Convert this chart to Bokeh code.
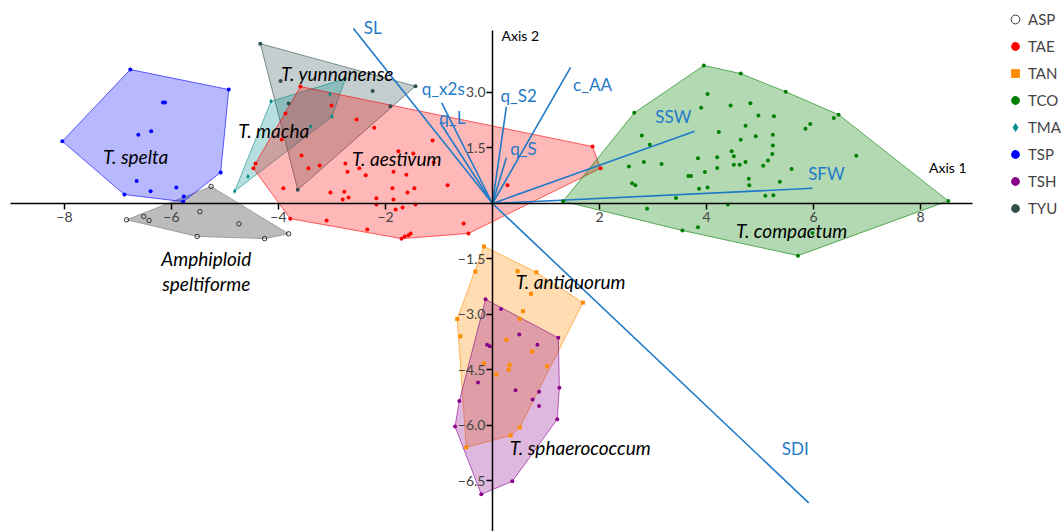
from bokeh.plotting import figure
from bokeh.models import (Range1d, LinearAxis, FixedTicker, Legend, LegendItem)
from bokeh.core.properties import value
from bokeh.embed import file_html
from bokeh.resources import INLINE

FONT = "Lato"
LOAD_COLOR = "#1f7ac8"

# ---- group scores (Axis 1, Axis 2) ----
asp_x = [-5.26, -3.81, -4.26, -5.52, -6.84, -6.52, -6.42, -5.47, -4.74]
asp_y = [0.46, -0.82, -0.95, -0.89, -0.44, -0.35, -0.46, -0.22, -0.55]

tae_x = [-3.59, -3.87, -3.01, -2.54, -2.21, -3.57, -3.44, -3.23, -2.75, -2.49,
         -2.71, -2.37, -3.91, -3.03, -2.77, -2.69, -2.80, -2.17, -2.17, -1.85,
         -1.87, -1.59, -1.46, -1.44, -1.81, -1.68, -1.85, -1.61, -1.76, -1.48,
         -1.12, -1.10, -0.84, -0.54, -0.45, -3.10, -2.34, -1.70, -1.64, -1.57,
         -1.53, -3.78, -4.47, -4.43, -3.94, 0.28, 1.87, 2.02]
tae_y = [3.16, 2.43, 2.65, 2.27, 2.05, 1.30, 0.95, 1.03, 1.08, 0.95,
         0.86, 0.76, 0.41, 0.30, 0.32, 0.16, 0.11, 0.14, -0.03, 0.11,
         0.41, 0.30, 0.41, -0.03, -0.16, -0.11, 0.86, 0.78, 1.41, 1.35,
         1.70, 1.11, 0.49, -0.54, -0.81, -0.46, -0.70, -0.95, -0.89, -0.86,
         -0.81, -0.41, 0.95, 1.08, 1.73, 0.49, 1.54, 0.95]

tan_x = [-0.16, 1.69, 0.51, 0.34, -0.49, -0.66, -0.32, 0.47, 0.82, 0.72,
         0.57, 0.51, -0.60, 0.26, 0.74, 1.02, -0.16, 0.32, 0.30, 0.07]
tan_y = [-1.16, -2.68, -6.05, -6.27, -6.59, -3.12, -1.84, -1.83, -1.86, -2.44,
         -2.91, -3.12, -3.59, -3.68, -4.00, -4.40, -4.32, -4.36, -4.49, -4.62]

tco_x = [3.95, 4.64, 5.48, 6.47, 8.52, 5.71, 3.55, 1.32, 2.65, 4.02,
         4.45, 4.82, 3.90, 4.97, 5.26, 6.38, 5.94, 5.85, 2.79, 4.23,
         4.73, 4.92, 5.24, 4.64, 2.94, 5.24, 4.47, 5.23, 6.80, 3.84,
         4.20, 4.51, 5.15, 2.83, 3.16, 2.55, 4.51, 4.62, 4.73, 5.06,
         4.20, 3.97, 5.59, 3.66, 3.71, 4.79, 4.80, 5.37, 2.61, 2.67,
         3.86, 4.02, 3.43, 5.10, 5.25, 2.89, 3.84, 4.40, 5.98]
tco_y = [3.73, 3.51, 3.02, 2.40, 0.07, -1.41, -0.73, 0.06, 2.45, 2.96,
         2.65, 2.71, 2.59, 2.38, 2.36, 2.31, 2.15, 2.02, 1.84, 1.93,
         2.10, 1.82, 1.86, 1.72, 1.59, 1.57, 1.41, 1.34, 1.29, 1.22,
         1.25, 1.28, 1.16, 1.12, 1.07, 1.00, 1.05, 1.05, 1.12, 1.02,
         0.96, 0.85, 0.93, 0.74, 0.74, 0.67, 0.49, 0.59, 0.55, 0.49,
         0.40, 0.43, 0.15, 0.21, 0.22, -0.14, -0.64, -0.03, -0.80]

tma_x = [-4.82, -4.14, -2.75, -3.00, -3.04, -3.40, -4.57]
tma_y = [0.33, 2.76, 3.37, 2.35, 2.95, 2.08, 0.73]

tsp_x = [-6.77, -4.93, -5.08, -5.77, -5.78, -6.88, -8.04, -6.16, -6.12,
         -6.62, -6.38, -6.65, -6.39, -5.91]
tsp_y = [3.62, 3.08, 0.84, 0.19, 0.05, 0.24, 1.68, 2.73, 2.73,
         1.86, 1.95, 0.61, 0.33, 0.43]

tsh_x = [-0.13, 1.23, 1.25, 1.21, 0.37, -0.21, -0.70, -0.62, 0.16, 0.50,
         0.84, -0.10, -0.05, -0.27, 0.43, 0.87, 0.75, 0.87]
tsh_y = [-2.59, -3.63, -4.98, -5.83, -7.51, -7.86, -6.03, -5.34, -2.85, -3.54,
         -3.82, -3.82, -3.86, -4.84, -5.05, -5.09, -5.30, -5.47]

tyu_x = [-4.34, -1.44, -1.91, -3.64, -3.96, -3.81, -2.24]
tyu_y = [4.32, 3.17, 2.63, 0.37, 3.31, 2.70, 3.04]

# ---- variable loadings ----
load_names = ["SL", "q_x2s", "q_L", "q_S2", "q_S", "c_AA", "SSW", "SFW", "SDI"]
load_x = [-2.60, -0.95, -0.98, 0.26, 0.26, 1.46, 3.78, 5.98, 5.91]
load_y = [4.73, 2.72, 2.19, 2.62, 1.24, 3.68, 1.95, 0.41, -8.09]
load_lab_x = [-2.24, -0.92, -0.75, 0.49, 0.58, 1.87, 3.38, 6.24, 5.66]
load_lab_y = [4.76, 3.10, 2.32, 2.92, 1.49, 3.22, 2.35, 0.81, -6.62]

# ---- group names ----
grp_names = ["T. spelta", "T. yunnanense", "T. macha", "T. aestivum", "Amphiploid",
             "speltiforme", "T. antiquorum", "T. sphaerococcum", "T. compactum"]
grp_lab_x = [-6.67, -2.90, -4.09, -1.79, -5.35, -5.35, 1.46, 1.64, 5.59]
grp_lab_y = [1.26, 3.51, 1.97, 1.22, -1.49, -2.16, -2.10, -6.59, -0.73]

# ---- axis ticks ----
x_ticks = [-8, -6, -4, -2, 2, 4, 6, 8]
y_ticks = [3.0, 1.5, -1.5, -3.0, -4.5, -6.0, -7.5]
y_tick_labels = ["3.0", "1.5", "\u22121.5", "\u22123.0", "\u22124.5", "\u22126.0", "\u22126.5"]


def hull(xs, ys):
    pts = sorted(set(zip(xs, ys)))

    def cross(o, a, b):
        return (a[0] - o[0]) * (b[1] - o[1]) - (a[1] - o[1]) * (b[0] - o[0])

    lower, upper = [], []
    for pt in pts:
        while len(lower) >= 2 and cross(lower[-2], lower[-1], pt) <= 0:
            lower.pop()
        lower.append(pt)
    for pt in reversed(pts):
        while len(upper) >= 2 and cross(upper[-2], upper[-1], pt) <= 0:
            upper.pop()
        upper.append(pt)
    h = lower[:-1] + upper[:-1]
    return [q[0] for q in h], [q[1] for q in h]


p = figure(width=1062, height=531, output_backend="svg", toolbar_location=None,
           x_range=Range1d(-9.196, 10.654), y_range=Range1d(-8.865, 5.486),
           x_axis_location=None, y_axis_location=None, min_border=0)
p.outline_line_color = None
p.xgrid.visible = False
p.ygrid.visible = False

# axes crossing at the origin
xax = LinearAxis(fixed_location=0, ticker=FixedTicker(ticks=x_ticks), bounds=(-9.0, 8.98),
                 major_label_overrides={t: str(t).replace("-", "\u2212") for t in x_ticks},
                 major_tick_out=6, major_tick_in=0, minor_tick_out=0, minor_tick_in=0,
                 axis_line_width=1.5, major_tick_line_width=1.5,
                 major_label_text_font=FONT, major_label_text_font_size="14px",
                 major_label_standoff=3)
p.add_layout(xax, "below")
yax = LinearAxis(fixed_location=0, ticker=FixedTicker(ticks=y_ticks), bounds=(-8.87, 4.68),
                 major_label_overrides=dict(zip(y_ticks, y_tick_labels)),
                 major_tick_out=6, major_tick_in=0, minor_tick_out=0, minor_tick_in=0,
                 axis_line_width=1.5, major_tick_line_width=1.5,
                 major_label_text_font=FONT, major_label_text_font_size="14px",
                 major_label_standoff=1)
p.add_layout(yax, "left")

groups = [
    ("ASP", asp_x, asp_y, "#7a7a7a", 0.5),
    ("TSP", tsp_x, tsp_y, "#0000ff", 0.28),
    ("TYU", tyu_x, tyu_y, "#2f4f4f", 0.28),
    ("TMA", tma_x, tma_y, "#008b8b", 0.28),
    ("TAE", tae_x, tae_y, "#ff0000", 0.28),
    ("TCO", tco_x, tco_y, "#008000", 0.3),
    ("TAN", tan_x, tan_y, "#ff8c00", 0.3),
    ("TSH", tsh_x, tsh_y, "#8b008b", 0.28),
]
for name, gx, gy, col, fa in groups:
    hx, hy = hull(gx, gy)
    p.patch(hx, hy, fill_color=col, fill_alpha=fa, line_color=col, line_alpha=0.6, line_width=1)

# loading vectors
p.segment(x0=[0] * len(load_x), y0=[0] * len(load_y), x1=load_x, y1=load_y,
          line_color=LOAD_COLOR, line_width=1.6)

renderers = {}
marker = {"TAN": "square", "TMA": "diamond"}
for name, gx, gy, col, fa in groups:
    if name == "ASP":
        r = p.scatter(gx, gy, marker="circle", size=4.5, fill_color=None,
                      line_color="#333333", line_width=1)
    else:
        r = p.scatter(gx, gy, marker=marker.get(name, "circle"),
                      size=5 if name == "TMA" else 4, fill_color=col, line_color=None)
    renderers[name] = r

p.text(x=load_lab_x, y=load_lab_y, text=load_names, text_align="center",
       text_baseline="middle", text_color=LOAD_COLOR, text_font=value(FONT),
       text_font_size="17px")
p.text(x=grp_lab_x, y=grp_lab_y, text=grp_names, text_align="center",
       text_baseline="middle", text_color="black", text_font=value(FONT),
       text_font_style="italic", text_font_size="19px")
p.text(x=[8.51, 0.52], y=[0.98, 4.54], text=["Axis 1", "Axis 2"], text_align="center",
       text_baseline="middle", text_color="black", text_font=value(FONT),
       text_font_size="14px")

legend_order = ["ASP", "TAE", "TAN", "TCO", "TMA", "TSP", "TSH", "TYU"]
legend = Legend(items=[LegendItem(label=n, renderers=[renderers[n]]) for n in legend_order],
                location=(1004, 312), orientation="vertical", padding=0, margin=0,
                spacing=5, glyph_width=22, glyph_height=22, label_height=22,
                label_standoff=2, label_text_font=FONT, label_text_font_size="15px",
                background_fill_alpha=0, border_line_alpha=0)
p.add_layout(legend)

open("out.html", "w").write(file_html(p, INLINE))
